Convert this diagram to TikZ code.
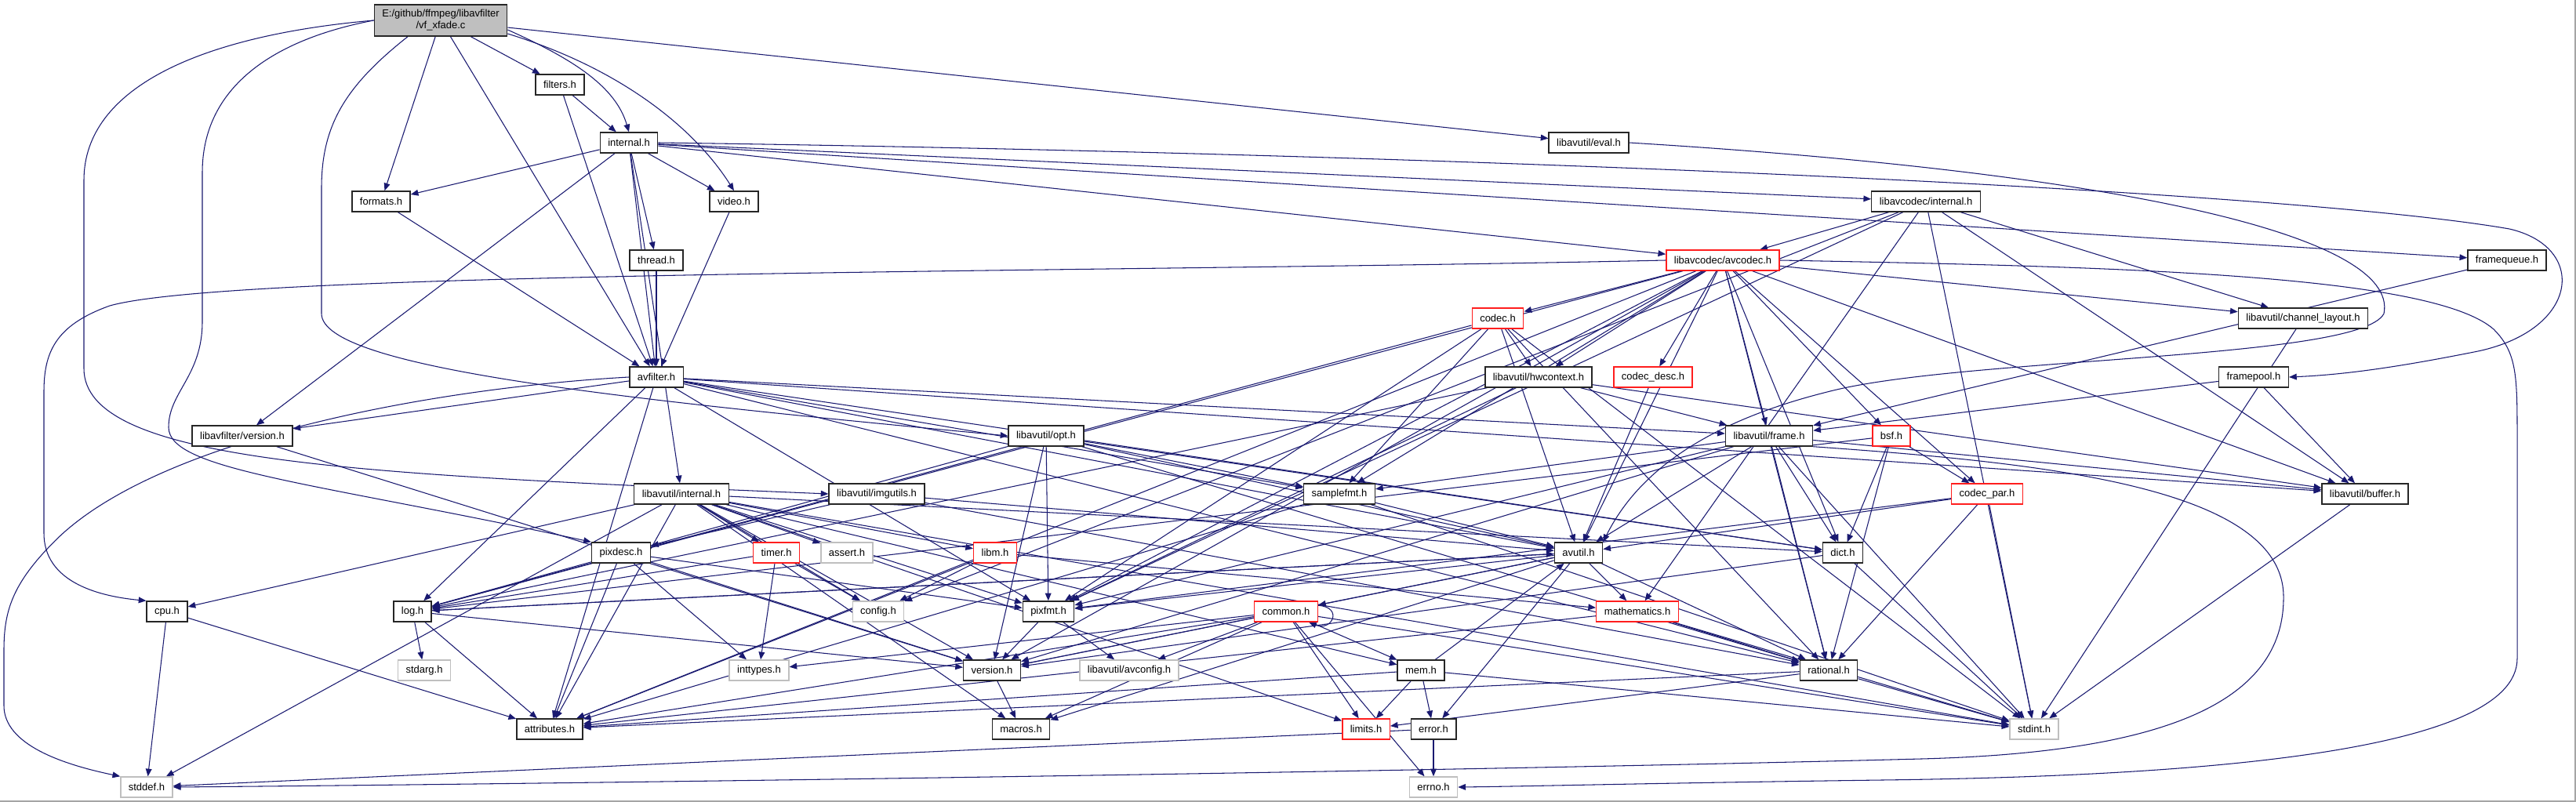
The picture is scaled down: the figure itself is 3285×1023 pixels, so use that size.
\documentclass[tikz,border=0pt]{standalone}
\usepackage{fontspec}
\setmainfont{Liberation Sans}
\usetikzlibrary{arrows.meta, calc, backgrounds}
\definecolor{dxNavy} {RGB}{ 25, 25,112}
\definecolor{dxRed}  {RGB}{255, 30, 30}
\definecolor{dxSys}  {RGB}{191,191,191}
\definecolor{dxRoot} {RGB}{191,191,191}
\definecolor{dxFrame}{RGB}{165,165,165}

\begin{document}
\begin{tikzpicture}[
  x=0.02cm, y=-0.02cm,
  hdr/.style={rectangle, draw=black!85, fill=white, line width=0.8pt,
    minimum height=0.52cm, inner xsep=0.2cm, inner ysep=0pt,
    font=\fontsize{7.4}{8.6}\selectfont},
  trunc/.style={hdr, draw=dxRed},
  sys/.style={hdr, draw=dxSys},
  root/.style={hdr, fill=dxRoot, align=center, minimum height=0.8cm},
  arr/.style={-{Triangle[length=5.5pt,width=4.4pt]}, dxNavy, line width=0.6pt},
]
\useasboundingbox (0,0) rectangle (3285,1023);

%% Rank 0-4
\node[root] (xfade) at (562,26) {E:/github/ffmpeg/libavfilter\\/vf\_xfade.c};
\node[hdr] (filters) at (714,108) {filters.h};
\node[hdr] (internal) at (802,182) {internal.h};
\node[hdr] (eval) at (2026,182) {libavutil/eval.h};
\node[hdr] (formats) at (486,257) {formats.h};
\node[hdr] (video) at (936,257) {video.h};
\node[hdr] (lavcint) at (2456,257) {libavcodec/internal.h};
\node[hdr] (thread) at (837,332) {thread.h};
\node[trunc] (avcodec) at (2197,332) {libavcodec/avcodec.h};
\node[hdr] (framequeue) at (3197,332) {framequeue.h};

%% Rank 5-8
\node[trunc] (codec) at (1910,406) {codec.h};
\node[hdr] (chlayout) at (2937,406) {libavutil/channel\_layout.h};
\node[hdr] (avfilter) at (837,481) {avfilter.h};
\node[hdr] (hwctx) at (1962,481) {libavutil/hwcontext.h};
\node[trunc] (codecdesc) at (2108,481) {codec\_desc.h};
\node[hdr] (framepool) at (2874,481) {framepool.h};
\node[hdr] (lavfiver) at (309,556) {libavfilter/version.h};
\node[hdr] (opt) at (1334,556) {libavutil/opt.h};
\node[hdr] (frame) at (2256,556) {libavutil/frame.h};
\node[trunc] (bsf) at (2412,556) {bsf.h};
\node[hdr] (lavuint) at (869,630) {libavutil/internal.h};
\node[hdr] (imgutils) at (1118,630) {libavutil/imgutils.h};
\node[hdr] (samplefmt) at (1708,630) {samplefmt.h};
\node[trunc] (codecpar) at (2534,630) {codec\_par.h};
\node[hdr] (buffer) at (3016,630) {libavutil/buffer.h};

%% Rank 9-13
\node[hdr] (pixdesc) at (792,705) {pixdesc.h};
\node[trunc] (timer) at (990,705) {timer.h};
\node[sys] (assert) at (1080,705) {assert.h};
\node[trunc] (libm) at (1269,705) {libm.h};
\node[hdr] (avutil) at (2013,705) {avutil.h};
\node[hdr] (dict) at (2350,705) {dict.h};
\node[hdr] (cpu) at (213,780) {cpu.h};
\node[hdr] (log) at (526,780) {log.h};
\node[sys] (config) at (1120,780) {config.h};
\node[hdr] (pixfmt) at (1337,780) {pixfmt.h};
\node[trunc] (common) at (1640,780) {common.h};
\node[trunc] (mathematics) at (2088,780) {mathematics.h};
\node[sys] (stdarg) at (541,855) {stdarg.h};
\node[sys] (inttypes) at (968,855) {inttypes.h};
\node[hdr] (version) at (1265,855) {version.h};
\node[sys] (avconfig) at (1440,855) {libavutil/avconfig.h};
\node[hdr] (mem) at (1812,855) {mem.h};
\node[hdr] (rational) at (2332,855) {rational.h};
\node[hdr] (attributes) at (701,930) {attributes.h};
\node[hdr] (macros) at (1302,930) {macros.h};
\node[trunc] (limits) at (1742,930) {limits.h};
\node[hdr] (error) at (1828,930) {error.h};
\node[sys] (stdint) at (2594,930) {stdint.h};
\node[sys] (stddef) at (187,1004) {stddef.h};
\node[sys] (errno) at (1828,1004) {errno.h};

\begin{scope}[on background layer]
\fill[white] (0,0) rectangle (3285,1023);

%% Include edges
\foreach \a/\b in {
  xfade/filters, xfade/formats, xfade/avfilter, xfade/eval,
  filters/avfilter, filters/internal,
  internal/formats, internal/video, internal/thread, internal/avfilter, internal/lavfiver,
  internal/lavuint, internal/avcodec, internal/lavcint, internal/framequeue,
  formats/avfilter, video/avfilter, thread/avfilter,
  lavcint/avcodec, lavcint/chlayout, lavcint/buffer, lavcint/mathematics, lavcint/pixfmt,
  lavcint/config, lavcint/stdint,
  avcodec/codec, avcodec/hwctx, avcodec/codecdesc, avcodec/frame, avcodec/bsf,
  avcodec/codecpar, avcodec/chlayout, avcodec/buffer, avcodec/samplefmt, avcodec/avutil,
  avcodec/dict, avcodec/rational, avcodec/pixfmt, avcodec/log, avcodec/attributes,
  avcodec/version,
  framequeue/frame,
  codec/hwctx, codec/samplefmt, codec/avutil, codec/log, codec/pixfmt, codec/rational,
  codec/stdint,
  chlayout/stdint,
  avfilter/lavfiver, avfilter/avutil, avfilter/attributes, avfilter/buffer, avfilter/dict,
  avfilter/frame, avfilter/log, avfilter/samplefmt, avfilter/pixfmt, avfilter/rational,
  hwctx/buffer, hwctx/frame, hwctx/log, hwctx/pixfmt,
  codecdesc/avutil, framepool/buffer, framepool/frame, lavfiver/version,
  opt/rational, opt/avutil, opt/dict, opt/log, opt/pixfmt, opt/samplefmt, opt/version,
  frame/avutil, frame/buffer, frame/dict, frame/rational, frame/samplefmt, frame/pixfmt,
  frame/version, frame/stdint,
  bsf/dict, bsf/log, bsf/rational, bsf/codecpar,
  lavuint/limits, lavuint/stdint, lavuint/stddef, lavuint/assert, lavuint/config,
  lavuint/attributes, lavuint/timer, lavuint/cpu, lavuint/dict, lavuint/macros,
  lavuint/mem, lavuint/pixfmt, lavuint/version, lavuint/libm,
  imgutils/avutil, imgutils/pixdesc, imgutils/rational,
  samplefmt/avutil, samplefmt/attributes, samplefmt/stdint,
  codecpar/avutil, codecpar/rational, codecpar/pixfmt, codecpar/stdint,
  buffer/stdint,
  pixdesc/inttypes, pixdesc/attributes, pixdesc/pixfmt, pixdesc/version,
  timer/config, timer/inttypes, timer/log,
  libm/config, libm/attributes, libm/mathematics,
  avutil/common, avutil/error, avutil/rational, avutil/version, avutil/macros,
  avutil/mathematics, avutil/log, avutil/pixfmt,
  dict/stdint, dict/version, cpu/stddef, cpu/attributes,
  log/stdarg, log/avutil, log/attributes, log/version,
  pixfmt/avconfig, pixfmt/version,
  common/errno, common/inttypes, common/limits, common/stdint, common/attributes,
  common/macros, common/version, common/avconfig, common/mem,
  mathematics/stdint, mathematics/attributes, mathematics/rational,
  version/macros,
  mem/limits, mem/stdint, mem/attributes, mem/error, mem/avutil,
  rational/stdint, rational/limits, rational/attributes,
  error/errno, error/stddef}{
  \draw[arr] (\a) -- (\b);
}

%% Curved edges off the root
\draw[arr] ($(xfade.east)+(0,12)$) .. controls (730,75) and (785,110) .. (internal.north);
\draw[arr] ($(xfade.east)+(0,17)$) .. controls (800,90) and (890,170) .. (video.north);

%% Edges routed round the left side
\draw[arr] (xfade.west) .. controls (260,45) and (107,110) .. (107,230)
  -- (107,470) .. controls (107,590) and (450,605) .. (imgutils.west);
\draw[arr] (xfade.west) .. controls (350,50) and (258,110) .. (258,220)
  -- (258,410) .. controls (258,480) and (215,500) .. (215,545)
  .. controls (215,600) and (400,615) .. (pixdesc.north west);
\draw[arr] ($(xfade.south)+(-42,0)$) .. controls (440,110) and (410,160) .. (410,240)
  -- (410,400) .. controls (410,470) and (800,510) .. (opt.west);
\draw[arr] (avcodec.west) .. controls (1400,348) and (300,345) .. (140,390)
  .. controls (70,415) and (56,450) .. (56,500) -- (56,680)
  .. controls (56,740) and (120,760) .. (cpu.north west);
\draw[arr] (avfilter.west) .. controls (550,495) and (200,560) .. (70,690)
  .. controls (15,745) and (5,780) .. (5,830) -- (5,900)
  .. controls (5,950) and (80,975) .. (stddef.north west);

%% Edges routed round the right side
\draw[arr] (internal.east) .. controls (1800,195) and (2900,240) .. (3200,292)
  .. controls (3300,315) and (3290,420) .. (3160,448)
  .. controls (3060,468) and (2990,478) .. (framepool.east);
\draw[arr] (avcodec.east) .. controls (2700,340) and (3100,350) .. (3180,420)
  .. controls (3210,450) and (3210,480) .. (3210,560) -- (3210,840)
  .. controls (3210,960) and (2800,990) .. (2400,995)
  .. controls (2100,999) and (1950,1003) .. (errno.east);
\draw[arr] (frame.south east) .. controls (2600,590) and (2910,620) .. (2912,760)
  .. controls (2914,900) and (2750,960) .. (2450,968)
  .. controls (1800,985) and (700,1000) .. (stddef.east);
\draw[arr] (eval.east) .. controls (2700,220) and (3060,300) .. (3040,400)
  .. controls (3010,460) and (2500,455) .. (2330,500)
  .. controls (2150,545) and (2080,620) .. (avutil.north east);

%% Self include
\draw[arr] ($(common.north east)+(0,6)$) .. controls +(32,2) and +(30,12)
  .. ($(common.south east)+(-12,0)$);
\end{scope}

%% Frame
\draw[dxFrame, line width=1pt] (3284,0) -- (3284,1022) -- (0,1022);
\end{tikzpicture}
\end{document}
